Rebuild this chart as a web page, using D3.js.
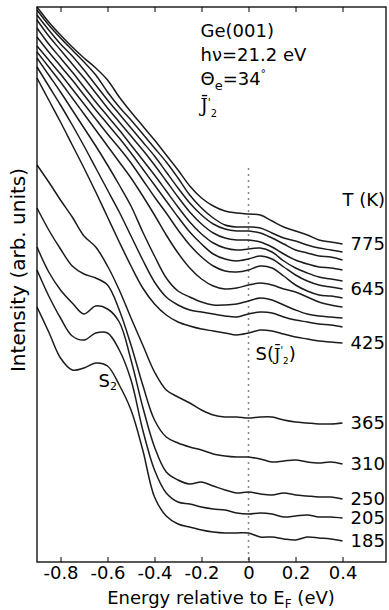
<!DOCTYPE html>
<html>
<head>
<meta charset="utf-8">
<script src="https://cdn.jsdelivr.net/npm/d3@7"></script>
<style>
  body { margin: 0; background: #fff; }
  svg { display: block; font-family: "DejaVu Sans", sans-serif; }
</style>
</head>
<body>
<svg id="chart"></svg>
<script>
// energy grid (eV, relative to E_F)
const energy = [-0.9, -0.85, -0.8, -0.75, -0.7, -0.65, -0.6, -0.55, -0.5, -0.45, -0.4, -0.35, -0.3,
  -0.25, -0.2, -0.15, -0.1, -0.05, 0, 0.05, 0.1, 0.15, 0.2, 0.25, 0.3, 0.35, 0.4];

// spectra, intensity in arb. units, hottest first
const t775 = [555,540,527,515,504,494,482,465,450,436,422,407,392,376,364,356,351,349,348,347,341,335,331,327,322,320,318];
const t02  = [552,537,524,512,500,487,470,455,442,428,414,400,384,367,354,344,337,335,335,334,329,324,321,317,314,312,310];
const t03  = [547,532,518,506,492,477,462,448,434,420,406,390,374,359,347,338,333,331,331,329,324,318,312,309,306,305,302];
const t04  = [542,526,512,498,484,469,454,440,426,412,397,381,365,350,338,329,324,322,322,320,315,308,302,298,295,294,292];
const t05  = [534,518,504,490,475,460,446,432,417,402,387,371,355,340,328,319,314,312,313,314,310,301,294,289,285,283,281];
const t645 = [525,510,496,482,467,452,438,424,409,393,377,361,345,330,318,308,303,301,303,306,303,295,287,281,277,275,273];
const t07  = [516,502,488,473,458,443,428,414,399,382,365,349,332,317,305,296,291,290,292,296,294,286,277,271,267,266,264];
const t08  = [510,495,480,464,448,432,416,400,384,366,347,327,309,294,283,276,273,274,277,279,277,273,270,265,260,257,255];
const t09  = [504,487,470,452,434,416,397,377,356,330,306,284,271,265,260,257,257,258,261,264,262,257,252,248,246,245,244];
const t10  = [495,476,457,437,416,394,372,350,326,302,280,265,257,252,250,248,246,245,248,250,249,245,242,240,238,237,235];
const t425 = [484,462,440,417,394,370,345,320,296,274,258,247,240,236,233,231,229,227,229,232,231,228,225,223,221,220,219];
const t365 = [397,380,362,345,326,315,296,272,244,217,190,172,165,159,152,147,145,145,144,145,145,142,140,139,138,138,139];
const t310 = [354,332,313,296,288,284,277,252,217,177,142,125,119,115,112,108,106,105,105,103,100,101,102,100,99,100,98];
const t250 = [315,290,272,259,248,256,253,240,202,155,115,90,82,78,80,76,72,69,70,68,67,69,67,66,65,65,63];
const t205 = [292,266,244,226,222,229,229,212,182,132,92,69,60,58,55,53,52,49,48,49,48,45,46,47,45,45,44];
const t185 = [255,230,204,192,194,199,196,177,152,112,65,46,38,35,32,30,29,29,29,25,25,23,22,25,24,23,21];

const spectra = [t775, t02, t03, t04, t05, t645, t07, t08, t09, t10, t425, t365, t310, t250, t205, t185];
const tempLabels = ['775', '', '', '', '', '645', '', '', '', '', '425', '365', '310', '250', '205', '185'];

const tickValues = [-0.8, -0.6, -0.4, -0.2, 0, 0.2, 0.4];
const tickLabels = ['-0.8', '-0.6', '-0.4', '-0.2', '0', '0.2', '0.4'];

const width = 389, height = 610;
const margin = {top: 7, right: 3, bottom: 48, left: 37};

const svg = d3.select('#chart').attr('width', width).attr('height', height);

const x = d3.scaleLinear().domain([-0.9, 0.585]).range([margin.left, width - margin.right]);
const y = d3.scaleLinear().domain([0, 555]).range([height - margin.bottom, margin.top]);

// E_F marker
svg.append('line')
  .attr('x1', x(0)).attr('x2', x(0))
  .attr('y1', y(394)).attr('y2', y(0))
  .attr('stroke', '#888')
  .attr('stroke-width', 1.5)
  .attr('stroke-dasharray', '2,4');

const line = d3.line()
  .x((d, i) => x(energy[i]))
  .y(d => y(d))
  .curve(d3.curveCatmullRom.alpha(0.5));

svg.append('g')
  .attr('class', 'lines')
  .selectAll('path')
  .data(spectra).enter()
  .append('path')
  .attr('d', d => line(d))
  .attr('fill', 'none')
  .attr('stroke', '#1c1c1c')
  .attr('stroke-width', 1.5);

// temperature labels at right end
svg.append('g')
  .selectAll('text')
  .data(spectra.map((d, i) => ({v: d[d.length - 1], label: tempLabels[i]})).filter(d => d.label))
  .enter()
  .append('text')
  .attr('x', x(0.4) + 8)
  .attr('y', d => y(d.v))
  .attr('dy', '0.36em')
  .attr('font-size', 18)
  .text(d => d.label);

svg.append('text')
  .attr('x', x(0.4))
  .attr('y', y(356))
  .attr('font-size', 18)
  .text('T (K)');

// axes, ticks pointing inward
const axisX = svg.append('g')
  .attr('transform', 'translate(0,' + y(0) + ')')
  .call(d3.axisBottom(x).tickValues(tickValues).tickFormat((d, i) => tickLabels[i]).tickSize(-5).tickPadding(4));
const axisTop = svg.append('g')
  .attr('transform', 'translate(0,' + y(555) + ')')
  .call(d3.axisTop(x).tickValues(tickValues).tickFormat('').tickSize(-5));

[axisX, axisTop].forEach(a => {
  a.select('.domain').remove();
  a.selectAll('.tick line').attr('stroke', '#000');
});
axisX.selectAll('.tick text')
  .attr('font-size', 18)
  .attr('font-family', '"DejaVu Sans", sans-serif')
  .attr('fill', '#000');

svg.append('rect')
  .attr('x', x(-0.9)).attr('y', y(555))
  .attr('width', x(0.585) - x(-0.9))
  .attr('height', y(0) - y(555))
  .attr('fill', 'none')
  .attr('stroke', '#000')
  .attr('stroke-width', 1.3);

// axis titles
const xt = svg.append('text')
  .attr('x', 221)
  .attr('y', 604)
  .attr('text-anchor', 'middle')
  .attr('font-size', 18);
xt.append('tspan').text('Energy relative to E');
xt.append('tspan').attr('font-size', 12).attr('dy', 4).text('F');
xt.append('tspan').attr('dy', -4).text(' (eV)');

svg.append('text')
  .attr('transform', 'translate(25,270) rotate(-90)')
  .attr('text-anchor', 'middle')
  .attr('font-size', 20)
  .text('Intensity (arb. units)');

// sample info
const info = svg.append('g').attr('font-size', 18);
info.append('text').attr('x', x(-0.204)).attr('y', y(525)).text('Ge(001)');
info.append('text').attr('x', x(-0.204)).attr('y', y(501)).text('h\u03bd=21.2 eV');
const th = info.append('text').attr('x', x(-0.204)).attr('y', y(477));
th.append('tspan').text('\u0398');
th.append('tspan').attr('font-size', 13).attr('dy', 5).text('e');
th.append('tspan').attr('dy', -5).text('=34');
th.append('tspan').attr('font-size', 10).attr('dy', -8).text('\u00b0');

// J-bar prime with subscript 2
const jbar = (sel, size) => {
  sel.append('tspan').attr('font-family', '"DejaVu Serif", serif').attr('font-size', size).text('J\u0304');
  sel.append('tspan').attr('font-size', size * 0.6).attr('dy', -size * 0.35).text('\'');
  sel.append('tspan').attr('font-size', size * 0.55).attr('dy', size * 0.6).text('2');
};
jbar(info.append('text').attr('x', x(-0.204)).attr('y', y(450)), 18);

const sj = svg.append('text').attr('x', x(0.03)).attr('y', y(202)).attr('font-size', 18);
sj.append('tspan').text('S(');
jbar(sj, 16);
sj.append('tspan').attr('dy', -16 * 0.25).text(')');

const s2 = svg.append('text').attr('x', x(-0.638)).attr('y', y(175)).attr('font-size', 18);
s2.append('tspan').text('S');
s2.append('tspan').attr('font-size', 11).attr('dy', 3).text('2');
</script>
</body>
</html>
